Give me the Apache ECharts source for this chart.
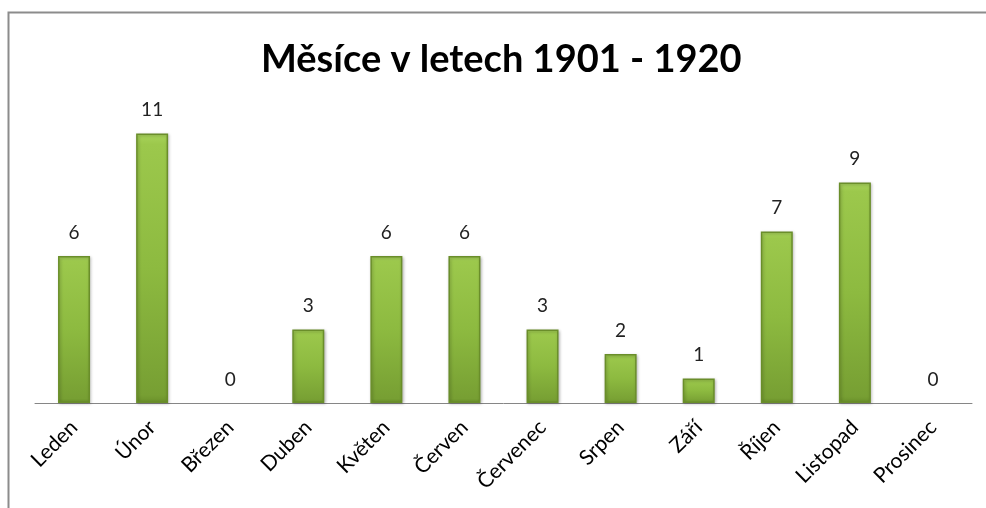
<!DOCTYPE html>
<html><head><meta charset="utf-8">
<script src="https://cdn.jsdelivr.net/npm/echarts@6/dist/echarts.min.js"></script>
<style>html,body{margin:0;padding:0;background:#fff}#c{width:986px;height:508px}</style>
</head><body><div id="c"></div>
<script>
const categories = ['Leden','Únor','Březen','Duben','Květen','Červen','Červenec','Srpen','Září','Říjen','Listopad','Prosinec'];
const values = [6,11,0,3,6,6,3,2,1,7,9,0];
const titleText = 'Měsíce v letech 1901 - 1920';

const chart = echarts.init(document.getElementById('c'));
const font = 'Lato, "Open Sans", sans-serif';
const barStyle = {
  color: new echarts.graphic.LinearGradient(0, 0, 0, 1, [
    { offset: 0, color: '#a9d45c' },
    { offset: 0.04, color: '#9cc84c' },
    { offset: 0.5, color: '#8dba40' },
    { offset: 0.97, color: '#779f33' },
    { offset: 1, color: '#6a902a' }
  ]),
  borderColor: '#6a8e2a', borderWidth: 1.5,
  shadowColor: 'rgba(0,0,0,0.25)', shadowBlur: 3, shadowOffsetX: 1, shadowOffsetY: 1
};
chart.setOption({
  animation: false,
  backgroundColor: '#fff',
  graphic: [{
    type: 'polyline', silent: true,
    shape: { points: [[8.5, 520], [8.5, 12.5], [1000, 12.5]] },
    style: { stroke: '#8c8c8c', lineWidth: 2, fill: null }
  }],
  title: {
    text: titleText, left: 256, top: 36,
    textStyle: { fontFamily: font, fontWeight: 'bold', fontSize: 38, color: '#000' }
  },
  grid: { left: 35, right: 14, top: 109, bottom: 105 },
  xAxis: {
    type: 'category', data: categories,
    axisLine: { lineStyle: { color: '#868686', width: 1 } },
    axisTick: { show: false },
    axisLabel: { rotate: 45, interval: 0, margin: 21, fontFamily: font, fontSize: 21, color: '#000' }
  },
  yAxis: { type: 'value', min: 0, max: 12, show: false, splitLine: { show: false } },
  series: [{
    type: 'bar',
    data: values.map(v => v === 0 ? { value: v, itemStyle: { color: 'rgba(0,0,0,0)', borderWidth: 0, shadowBlur: 0, shadowOffsetX: 0, shadowOffsetY: 0 } } : v),
    barWidth: 32,
    itemStyle: barStyle,
    label: { show: true, position: 'top', distance: 14, fontFamily: font, fontSize: 19, color: '#222' }
  }]
});
</script></body></html>
